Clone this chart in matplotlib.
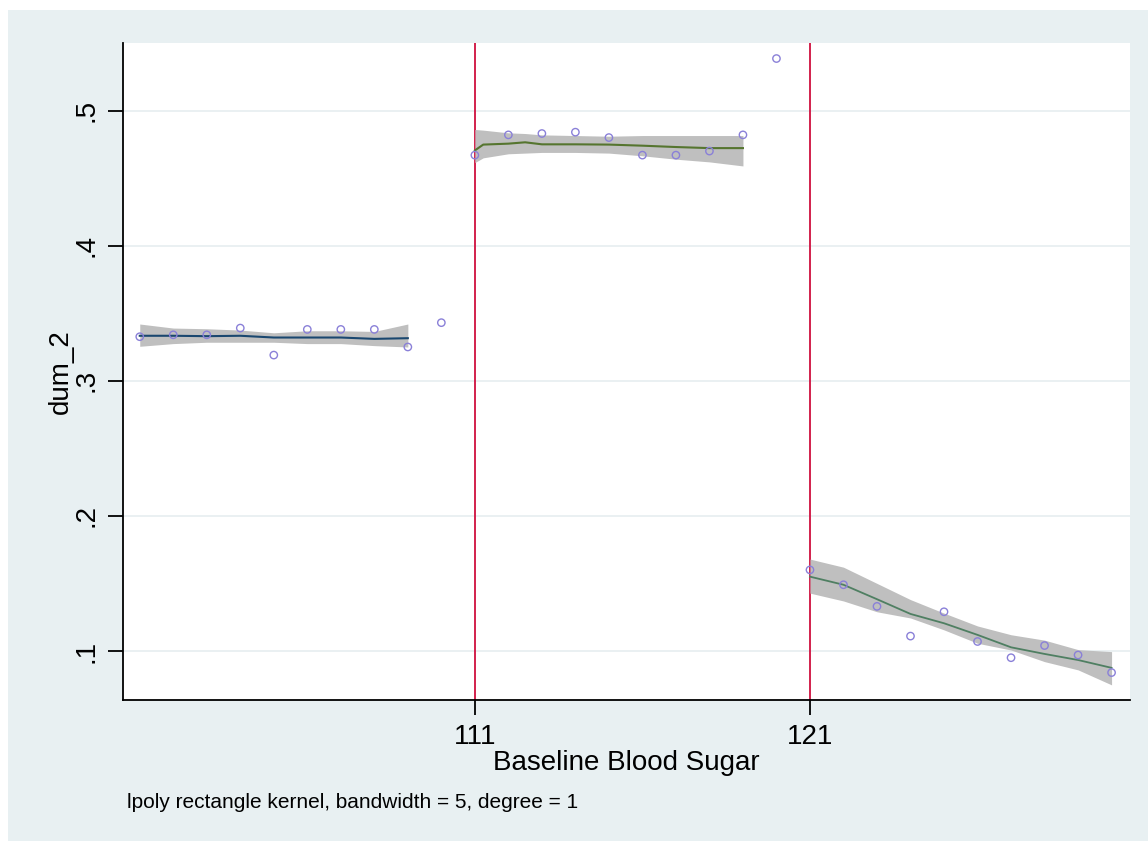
import matplotlib
matplotlib.use('Agg')
import matplotlib.pyplot as plt
from matplotlib.patches import Rectangle

plt.rcParams['font.family'] = ['Liberation Sans', 'DejaVu Sans']

# Data: binned means of dum_2 by baseline blood sugar
sugar = [101, 102, 103, 104, 105, 106, 107, 108, 109, 110,
         111, 112, 113, 114, 115, 116, 117, 118, 119, 120,
         121, 122, 123, 124, 125, 126, 127, 128, 129, 130]
dum_2 = [0.3326, 0.334, 0.334, 0.339, 0.319, 0.338, 0.338, 0.338, 0.325, 0.343,
         0.467, 0.482, 0.483, 0.484, 0.480, 0.467, 0.467, 0.470, 0.482, 0.5385,
         0.160, 0.149, 0.133, 0.111, 0.129, 0.107, 0.095, 0.104, 0.097, 0.084]

# lpoly fits with confidence bands, below cutoff 111
fit1_x = [101, 102, 103, 104, 105, 106, 107, 108, 109]
fit1_y = [0.3333, 0.3333, 0.3330, 0.3333, 0.3320, 0.3320, 0.3320, 0.3310, 0.3315]
fit1_lo = [0.3255, 0.3275, 0.3285, 0.3285, 0.3285, 0.3275, 0.3275, 0.3260, 0.3250]
fit1_hi = [0.3420, 0.3390, 0.3385, 0.3375, 0.3355, 0.3370, 0.3370, 0.3365, 0.3420]

# between 111 and 121
fit2_x = [111, 111.25, 112, 112.5, 113, 114, 115, 116, 117, 118, 119]
fit2_y = [0.4705, 0.4748, 0.4755, 0.4765, 0.4750, 0.4750, 0.4748, 0.4740, 0.4730, 0.4722, 0.4722]
fit2_lo = [0.4615, 0.4650, 0.4680, 0.4685, 0.4690, 0.4690, 0.4685, 0.4665, 0.4640, 0.4620, 0.4590]
fit2_hi = [0.4860, 0.4855, 0.4835, 0.4830, 0.4820, 0.4815, 0.4810, 0.4815, 0.4815, 0.4815, 0.4815]

# above 121
fit3_x = [121, 122, 123, 124, 125, 126, 127, 128, 129, 130]
fit3_y = [0.155, 0.149, 0.1383, 0.1274, 0.1205, 0.1119, 0.1027, 0.0978, 0.0933, 0.0875]
fit3_lo = [0.1428, 0.1370, 0.1290, 0.1244, 0.1156, 0.1057, 0.1007, 0.0921, 0.0860, 0.0749]
fit3_hi = [0.1680, 0.1620, 0.1500, 0.1380, 0.1280, 0.1185, 0.1120, 0.1080, 0.1010, 0.0995]

cutoffs = [111, 121]
yticks = [0.1, 0.2, 0.3, 0.4, 0.5]
ytick_labels = ['.1', '.2', '.3', '.4', '.5']

bg = '#E8F0F2'
fig = plt.figure(figsize=(11.48, 8.41), dpi=100, facecolor=bg)
# white strip at top and left, as in the screenshot
fig.patches.append(Rectangle((0, 1 - 10 / 841), 1, 10 / 841, transform=fig.transFigure,
                             facecolor='white', edgecolor='none', zorder=-1))
fig.patches.append(Rectangle((0, 0), 8 / 1148, 1, transform=fig.transFigure,
                             facecolor='white', edgecolor='none', zorder=-1))

ax = fig.add_axes([123 / 1148, 1 - 700 / 841, (1130 - 123) / 1148, (700 - 43) / 841])
ax.set_facecolor('white')

band = '#BFBFBF'
ax.fill_between(fit1_x, fit1_lo, fit1_hi, color=band, lw=0, zorder=2)
ax.fill_between(fit2_x, fit2_lo, fit2_hi, color=band, lw=0, zorder=2)
ax.fill_between(fit3_x, fit3_lo, fit3_hi, color=band, lw=0, zorder=2)
ax.plot(fit1_x, fit1_y, color='#1A476F', lw=1.5, zorder=3)
ax.plot(fit2_x, fit2_y, color='#55752F', lw=1.5, zorder=3)
ax.plot(fit3_x, fit3_y, color='#4F7F62', lw=1.3, zorder=3)

ax.scatter(sugar, dum_2, s=28, facecolors='none', edgecolors='#8A80D8', linewidths=1.0, zorder=4)

for c in cutoffs:
    ax.axvline(c, color='#D2204C', lw=1.4, zorder=1)

ax.set_xlim(100.5, 130.55)
ax.set_ylim(0.0637, 0.55)
ax.set_xticks(cutoffs)
ax.set_xticklabels([str(c) for c in cutoffs], fontsize=20)
ax.set_yticks(yticks)
ax.set_yticklabels(ytick_labels, fontsize=20, rotation=90, va='center')
ax.grid(axis='y', color='#E6EEF0', lw=1.2, zorder=0)
ax.set_axisbelow(True)
for s in ['top', 'right']:
    ax.spines[s].set_visible(False)
for s in ['left', 'bottom']:
    ax.spines[s].set_linewidth(1.3)
ax.tick_params(length=11, width=1.3, pad=6, colors='black')

ax.set_xlabel('Baseline Blood Sugar', fontsize=20, labelpad=0)
ax.set_ylabel('dum_2', fontsize=20, labelpad=0)

fig.text(127 / 1148, 1 - 808 / 841, 'lpoly rectangle kernel, bandwidth = 5, degree = 1',
         fontsize=15, ha='left', va='baseline')

fig.savefig('out.png', dpi=100, facecolor=bg)
